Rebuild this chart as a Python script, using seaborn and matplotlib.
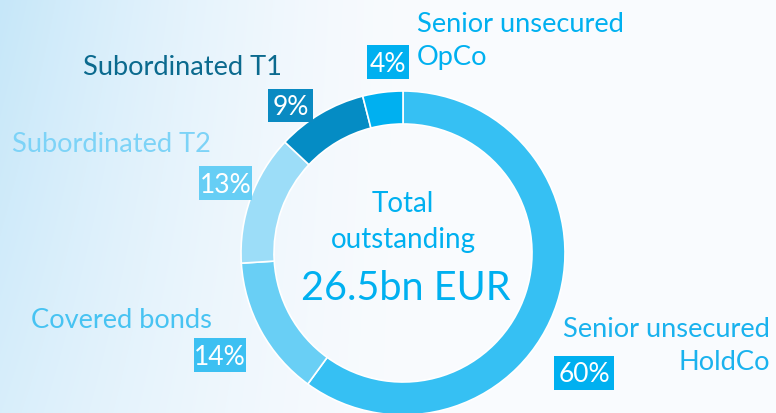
import numpy as np
import matplotlib
matplotlib.use("Agg")
import matplotlib.pyplot as plt
from matplotlib.patches import Rectangle
import seaborn as sns

# Debt outstanding by instrument (share of total, %)
categories = ["Senior unsecured\nHoldCo", "Covered bonds", "Subordinated T2",
              "Subordinated T1", "Senior unsecured\nOpCo"]
shares = [60, 14, 13, 9, 4]
pct_labels = ["60%", "14%", "13%", "9%", "4%"]
total_text = "26.5bn EUR"

slice_colors = ["#36C0F3", "#69CFF5", "#9CDDF8", "#058CC4", "#00B0F0"]
label_colors = ["#1AB2EE", "#47C3F2", "#7DD3F7", "#0B6A8E", "#00B0F0"]
box_colors = ["#00B0F0", "#3CC0F2", "#66CEF5", "#0A8AC2", "#00B0F0"]

sns.set_theme(style="white")
plt.rcParams["font.family"] = ["Lato", "DejaVu Sans"]

W, H = 776, 414
fig = plt.figure(figsize=(W / 100, H / 100), dpi=100)

# soft blue wash on the left fading to white
bg = fig.add_axes([0, 0, 1, 1])
yy, xx = np.mgrid[0:H, 0:W]
w = np.clip(1 - xx / 430.0, 0, 1) ** 1.6 * (1 - 0.35 * yy / H)
tint = np.array([0xC6, 0xE7, 0xF9]) / 255.0
white = np.array([0xF9, 0xFB, 0xFE]) / 255.0
img = white[None, None, :] * (1 - w[..., None]) + tint[None, None, :] * w[..., None]
bg.imshow(img, extent=(0, W, 0, H), origin="upper", aspect="auto")
bg.set_axis_off()

ax = fig.add_axes([0, 0, 1, 1])
ax.set_facecolor("none")

cx, cy, R, ring = 403, H - 254, 162, 33
ax.pie(shares, colors=slice_colors, startangle=90, counterclock=False,
       radius=R, center=(cx, cy),
       wedgeprops=dict(width=ring, edgecolor="white", linewidth=1.2))
ax.set_xlim(0, W)
ax.set_ylim(0, H)
ax.set_aspect("equal")
ax.set_axis_off()

def Y(v):
    return H - v

lab_fs = 19.6
# category labels: (x, baseline, ha)
lab_pos = [(770, 337, "right"), (31, 328, "left"), (12, 152, "left"),
           (83, 75, "left"), (417, 32, "left")]
for name, col, (x, yb, ha) in zip(categories, label_colors, lab_pos):
    lines = name.split("\n")
    for i, line in enumerate(lines):
        ax.text(x, Y(yb + i * 33), line, color=col, fontsize=lab_fs,
                ha=ha, va="baseline")

# percentage boxes: (x0, x1, top, bottom, baseline)
box_pos = [(554, 614, 357, 391, 382), (194, 246, 339, 373, 365),
           (199, 252, 167, 201, 193), (268, 313, 90, 123, 115),
           (367, 409, 46, 80, 72)]
for txt, col, (x0, x1, t, b, yb) in zip(pct_labels, box_colors, box_pos):
    ax.add_patch(Rectangle((x0, Y(b)), x1 - x0, b - t, facecolor=col,
                           edgecolor="none", zorder=3))
    ax.text((x0 + x1) / 2, Y(yb), txt, color="white", fontsize=19,
            ha="center", va="baseline", zorder=4)

ctr_col = "#00B0F0"
ax.text(cx, Y(212), "Total", color=ctr_col, fontsize=20, ha="center", va="baseline")
ax.text(cx, Y(248), "outstanding", color=ctr_col, fontsize=20, ha="center", va="baseline")
ax.text(cx + 3, Y(300), total_text, color=ctr_col, fontsize=28.5, ha="center", va="baseline")

fig.savefig("out.png", dpi=100)
